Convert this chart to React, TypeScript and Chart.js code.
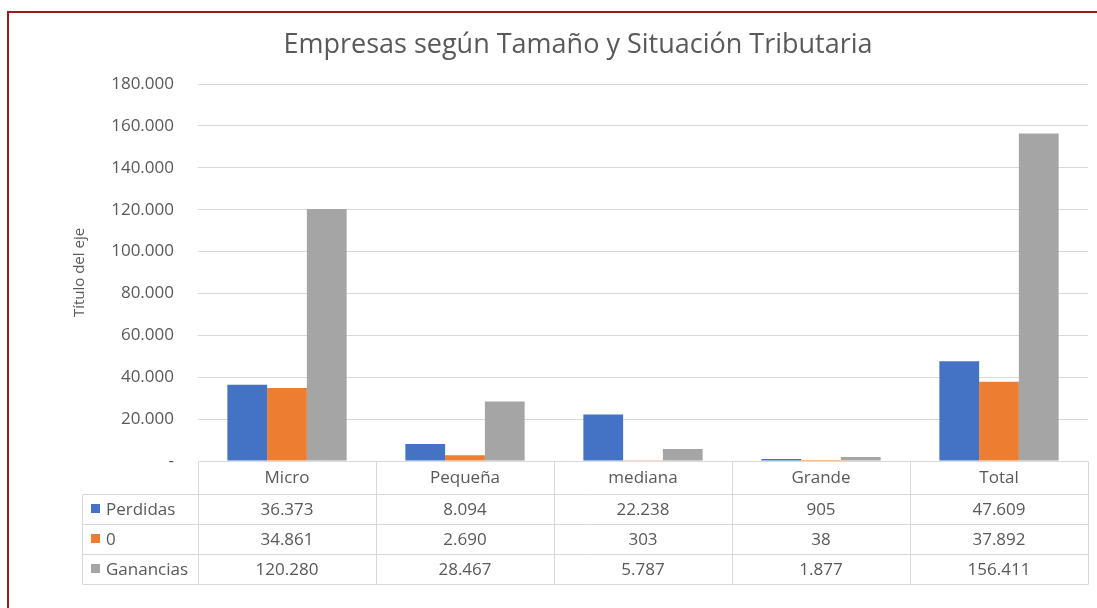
import React, { useEffect, useRef } from "react";
import { Chart, registerables } from "chart.js";

Chart.register(...registerables);

const categories = ["Micro", "Pequeña", "mediana", "Grande", "Total"];
const perdidas = [36373, 8094, 22238, 905, 47609];
const cero = [34861, 2690, 303, 38, 37892];
const ganancias = [120280, 28467, 5787, 1877, 156411];
const seriesNames = ["Perdidas", "0", "Ganancias"];
const seriesColors = ["#4472C4", "#ED7D31", "#A5A5A5"];
const chartTitle = "Empresas según Tamaño y Situación Tributaria";
const axisTitle = "Título del eje";

const FONT = "'Open Sans', 'Noto Sans', sans-serif";
const TEXT = "#595959";
const GRID = "#d9d9d9";

const fmt = (v: number) =>
  v === 0 ? "-" : String(Math.round(v)).replace(/\B(?=(\d{3})+(?!\d))/g, ".");

const tablePlugin = {
  id: "dataTable",
  afterDraw(chart: any) {
    const { ctx, chartArea } = chart;
    const xs = chart.scales.x;
    const n = categories.length;
    const colW = (chartArea.right - chartArea.left) / n;
    const top = chartArea.bottom;
    const headerH = 33;
    const rowH = 30;
    const legendLeft = 82;
    const left = chartArea.left;
    const right = chartArea.right;
    const rowsTop = top + headerH;
    const bottom = rowsTop + rowH * 3;
    const series = [perdidas, cero, ganancias];
    ctx.save();
    // chart title
    ctx.fillStyle = TEXT;
    ctx.font = `27px ${FONT}`;
    ctx.textAlign = "center";
    ctx.textBaseline = "middle";
    ctx.fillText(chartTitle, 578, 45);

    ctx.strokeStyle = GRID;
    ctx.lineWidth = 1;
    const line = (x1: number, y1: number, x2: number, y2: number) => {
      ctx.beginPath();
      ctx.moveTo(Math.round(x1) + 0.5, Math.round(y1) + 0.5);
      ctx.lineTo(Math.round(x2) + 0.5, Math.round(y2) + 0.5);
      ctx.stroke();
    };
    line(left, top, right, top);
    for (let r = 0; r <= 3; r++) {
      const y = rowsTop + r * rowH;
      line(legendLeft, y, right, y);
    }
    for (let c = 0; c <= n; c++) {
      const x = left + c * colW;
      line(x, top, x, bottom);
    }
    line(legendLeft, rowsTop, legendLeft, bottom);

    ctx.fillStyle = TEXT;
    ctx.font = `17px ${FONT}`;
    ctx.textAlign = "center";
    ctx.textBaseline = "middle";
    categories.forEach((cat, i) => {
      const cx = xs.getPixelForValue(i);
      ctx.fillText(cat, cx, top + headerH / 2 + 1);
      series.forEach((s, r) => {
        ctx.fillText(fmt(s[i]), cx, rowsTop + r * rowH + rowH / 2 + 1);
      });
    });
    ctx.textAlign = "left";
    seriesNames.forEach((name, r) => {
      const cy = rowsTop + r * rowH + rowH / 2;
      ctx.fillStyle = seriesColors[r];
      ctx.fillRect(91, cy - 5, 9, 9);
      ctx.fillStyle = TEXT;
      ctx.fillText(name, 106, cy + 1);
    });
    ctx.restore();
  },
};

export default function App() {
  const ref = useRef<HTMLCanvasElement>(null);
  useEffect(() => {
    if (!ref.current) return;
    const chart = new Chart(ref.current, {
      type: "bar",
      data: {
        labels: categories,
        datasets: [
          { label: seriesNames[0], data: perdidas, backgroundColor: seriesColors[0] },
          { label: seriesNames[1], data: cero, backgroundColor: seriesColors[1] },
          { label: seriesNames[2], data: ganancias, backgroundColor: seriesColors[2] },
        ],
      },
      options: {
        responsive: false,
        animation: false,
        layout: { padding: { left: 0, right: 9, top: 84, bottom: 147 } },
        datasets: { bar: { categoryPercentage: 0.67, barPercentage: 1 } },
        plugins: {
          legend: { display: false },
          tooltip: { enabled: false },
          title: { display: false },
        },
        scales: {
          x: { display: false },
          y: {
            min: 0,
            max: 180000,
            afterFit: (s: any) => {
              s.width = 198;
            },
            border: { display: false },
            grid: { color: GRID, drawTicks: false },
            ticks: {
              stepSize: 20000,
              padding: 24,
              color: TEXT,
              font: { family: FONT, size: 17 },
              callback: (v: any) => fmt(Number(v)),
            },
            title: {
              display: true,
              text: axisTitle,
              color: TEXT,
              font: { family: FONT, size: 15 },
              padding: { top: 71, bottom: 0 },
            },
          },
        },
      },
      plugins: [tablePlugin],
    });
    return () => chart.destroy();
  }, []);
  return (
    <div style={{ position: "absolute", left: 0, top: 0, width: 1097, height: 608, background: "#fff", overflow: "hidden" }}>
      <div
        style={{
          position: "absolute",
          left: 7,
          top: 11,
          width: 1200,
          height: 700,
          borderLeft: "2px solid #9a1c1c",
          borderTop: "2px solid #9a1c1c",
        }}
      />
      <canvas ref={ref} width={1097} height={608} style={{ position: "absolute", left: 0, top: 0 }} />
    </div>
  );
}
